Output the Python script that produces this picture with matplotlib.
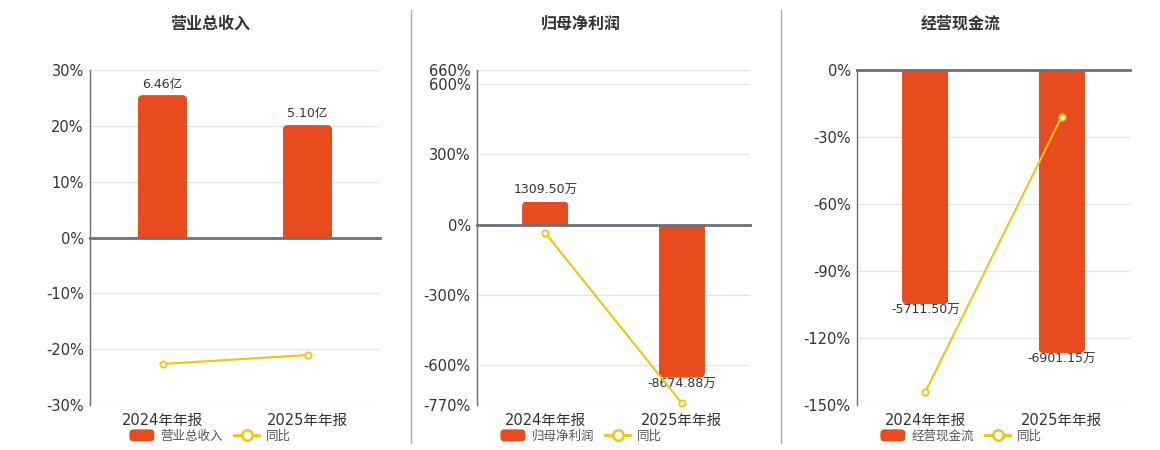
import matplotlib
matplotlib.use('Agg')
import matplotlib.pyplot as plt
from matplotlib.patches import FancyBboxPatch, Rectangle, Patch
from matplotlib.lines import Line2D
from matplotlib.legend_handler import HandlerPatch

plt.rcParams['font.family'] = ['DejaVu Sans', 'Noto Sans CJK SC']

# ---------------- data ----------------
categories = ['2024年年报', '2025年年报']

titles = ['营业总收入', '归母净利润', '经营现金流']
legend_names = ['营业总收入', '归母净利润', '经营现金流']
yoy_name = '同比'

revenue = [6.46, 5.10]            # 亿
revenue_labels = ['6.46亿', '5.10亿']
revenue_yoy = [-22.65, -21.05]    # %

profit = [1309.50, -8674.88]      # 万
profit_labels = ['1309.50万', '-8674.88万']
profit_yoy = [-35.5, -762.45]

cash = [-5711.50, -6901.15]       # 万
cash_labels = ['-5711.50万', '-6901.15万']
cash_yoy = [-144.2, -20.83]

yticks_revenue = [-30, -20, -10, 0, 10, 20, 30]
yticks_profit = [-770, -600, -300, 0, 300, 600, 660]
yticks_cash = [-150, -120, -90, -60, -30, 0]

# ---------------- style ----------------
BAR = '#E84B1D'
LINE = '#F2C40F'
AXIS = '#6E7079'
GRID = '#E0E6F1'
TXT = '#333333'

W, H = 1160, 450
fig = plt.figure(figsize=(W / 100, H / 100), dpi=100)
fig.patch.set_facecolor('white')


def rounded_handle(legend, orig_handle, xdescent, ydescent, width, height, fontsize):
    return FancyBboxPatch((-xdescent, -ydescent), width, height,
                          boxstyle='round,pad=0,rounding_size=3')


def round_bars(axb, bars, radius_px, color):
    p0 = axb.transData.transform((0, 0))
    p1 = axb.transData.transform((1, 1))
    ppx = abs(p1[0] - p0[0])
    ppy = abs(p1[1] - p0[1])
    rx = radius_px / ppx
    ry = radius_px / ppy
    aspect = ry / rx
    for b in bars:
        x, w, h = b.get_x(), b.get_width(), b.get_height()
        b.set_visible(False)
        if h >= 0:
            y0, hh = -ry, h + ry
        else:
            y0, hh = h, -h + ry
        fp = FancyBboxPatch((x, y0), w, hh,
                            boxstyle=f'round,pad=0,rounding_size={rx}',
                            mutation_aspect=aspect, fc=color, ec='none',
                            transform=axb.transData)
        axb.add_patch(fp)
        clip = Rectangle((x, min(0, h)), w, abs(h), transform=axb.transData)
        fp.set_clip_path(clip)


def panel(left_px, right_px, title, cx, values, labels, yoy, yticks, bar_lim, legend_name):
    top_px, bot_px = 70, 405
    rect = [left_px / W, 1 - bot_px / H, (right_px - left_px) / W, (bot_px - top_px) / H]
    ax = fig.add_axes(rect)
    axb = ax.twinx()
    axl = ax.twinx()

    x = list(range(len(categories)))
    ylim = (min(yticks), max(yticks))

    # base axis: grid, y labels, x labels
    ax.set_xlim(-0.5, len(categories) - 0.5)
    ax.set_ylim(*ylim)
    ax.set_yticks(yticks)
    ax.set_yticklabels([f'{t}%' for t in yticks])
    ax.set_xticks(x)
    ax.set_xticklabels(categories)
    ax.set_xticks([i - 0.5 for i in range(len(categories) + 1)], minor=True)
    ax.yaxis.grid(True, color=GRID, lw=1)
    ax.set_axisbelow(True)
    for s in ['top', 'right', 'bottom']:
        ax.spines[s].set_visible(False)
    ax.spines['left'].set_color(AXIS)
    ax.spines['left'].set_linewidth(1)
    ax.tick_params(axis='y', length=0, pad=4.5, labelsize=10.5, labelcolor=TXT)
    ax.tick_params(axis='x', which='both', length=0, pad=6, labelsize=10.5, labelcolor=TXT)

    # bars
    axb.set_ylim(*bar_lim)
    axb.set_yticks([])
    for s in axb.spines.values():
        s.set_visible(False)
    bars = axb.bar(x, values, width=0.34, color=BAR)
    round_bars(axb, bars, 5, BAR)
    for xi, v, lab in zip(x, values, labels):
        off = 8 if v >= 0 else -4.5
        axb.annotate(lab, (xi, v), xytext=(0, off), textcoords='offset points',
                     ha='center', va='center', fontsize=9, color=TXT)

    # line + zero axis
    axl.set_ylim(*ylim)
    axl.set_yticks([])
    for s in ['left', 'right', 'top']:
        axl.spines[s].set_visible(False)
    axl.spines['bottom'].set_position(('data', 0))
    axl.spines['bottom'].set_color(AXIS)
    axl.spines['bottom'].set_linewidth(2)
    axl.tick_params(axis='x', which='major', length=0, labelbottom=False)
    axl.tick_params(axis='x', which='minor', length=4, width=1, color=AXIS, direction='out')
    axl.plot(x, yoy, color=LINE, lw=1.5, marker='o', markersize=4.5,
             markerfacecolor='white', markeredgecolor=LINE, markeredgewidth=1.3,
             clip_on=False, zorder=5)

    fig.text(cx / W, 1 - 24 / H, title, ha='center', va='center',
             fontsize=11.5, fontweight='bold', color=TXT)

    handles = [Patch(facecolor=BAR, edgecolor='none'),
               Line2D([], [], color=LINE, lw=2, marker='o', markersize=7.5,
                      markerfacecolor='white', markeredgecolor=LINE, markeredgewidth=1.8)]
    fig.legend(handles, [legend_name, yoy_name], loc='center',
               bbox_to_anchor=(cx / W, 1 - 436 / H), ncol=2, frameon=False,
               fontsize=9, handlelength=2, handleheight=1.1, handletextpad=0.5,
               columnspacing=0.9, labelcolor='#555555', borderaxespad=0, borderpad=0,
               handler_map={Patch: HandlerPatch(patch_func=rounded_handle)})


panel(90, 380, titles[0], 210, revenue, revenue_labels, revenue_yoy,
      yticks_revenue, (-7.6, 7.6), legend_names[0])
panel(477, 750, titles[1], 581, profit, profit_labels, profit_yoy,
      yticks_profit, (-770 * 13.28, 660 * 13.28), legend_names[1])
panel(857, 1130, titles[2], 961, cash, cash_labels, cash_yoy,
      yticks_cash, (-8170, 0), legend_names[2])

for xs in [410.5, 780.5]:
    fig.add_artist(Line2D([xs / W, xs / W], [1 - 10 / H, 1 - 443 / H],
                          transform=fig.transFigure, color='#AAAAAA', lw=1))

fig.savefig('out.png', dpi=100, facecolor='white')
